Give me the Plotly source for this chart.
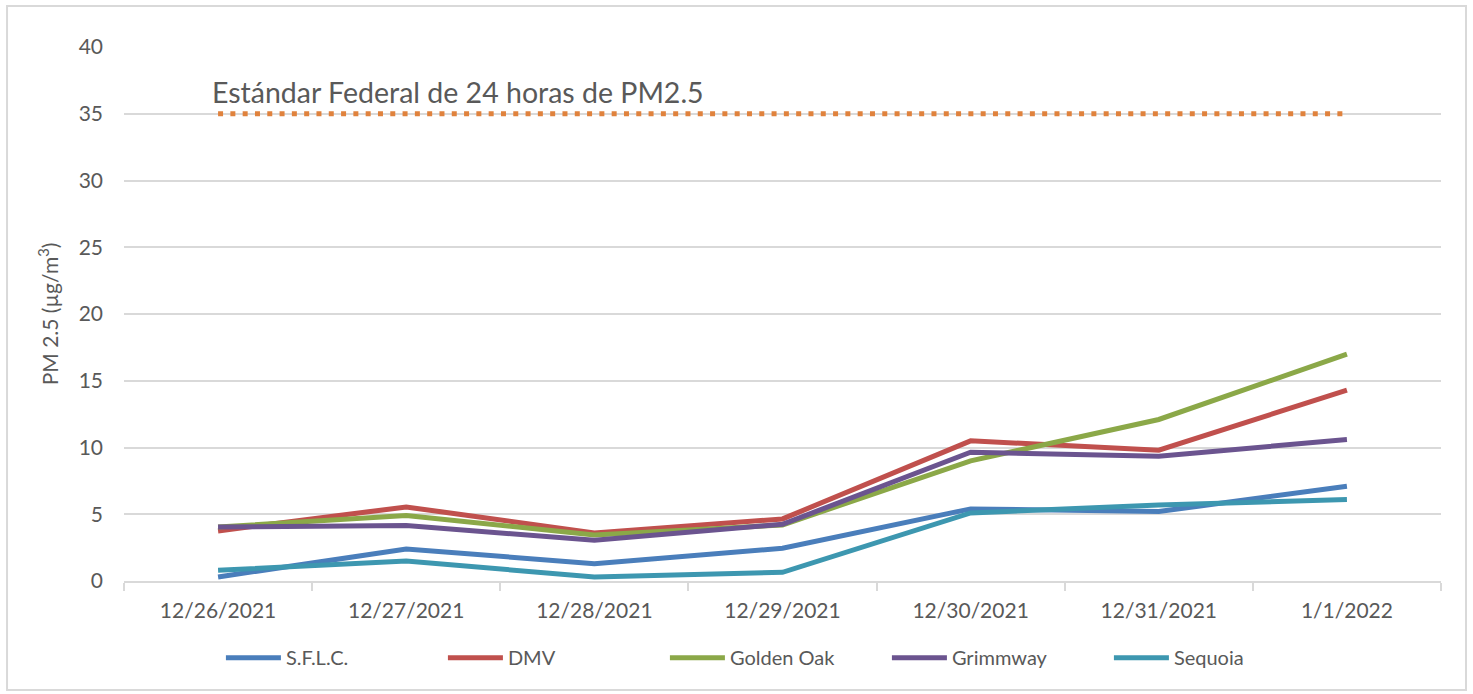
import plotly.graph_objects as go

dates = ["12/26/2021", "12/27/2021", "12/28/2021", "12/29/2021", "12/30/2021", "12/31/2021", "1/1/2022"]
sflc = [0.3, 2.4, 1.3, 2.45, 5.4, 5.2, 7.1]
dmv = [3.75, 5.55, 3.6, 4.65, 10.5, 9.8, 14.3]
golden_oak = [4.05, 4.9, 3.45, 4.2, 9.0, 12.1, 17.0]
grimmway = [4.05, 4.15, 3.05, 4.25, 9.65, 9.35, 10.6]
sequoia = [0.8, 1.5, 0.3, 0.65, 5.1, 5.7, 6.1]
standard = [35] * len(dates)

series = [
    ("S.F.L.C.", sflc, "#4A7EBB"),
    ("DMV", dmv, "#C0504D"),
    ("Golden Oak", golden_oak, "#8BA848"),
    ("Grimmway", grimmway, "#6B548F"),
    ("Sequoia", sequoia, "#3D97B0"),
]

FONT = "Lato"
TXT = "#595959"

fig = go.Figure()
fig.add_trace(go.Scatter(x=dates, y=standard, mode="lines", showlegend=False,
                         line=dict(color="#E0823D", width=5, dash="5px,7.3px"),
                         hoverinfo="skip"))
for name, vals, col in series:
    fig.add_trace(go.Scatter(x=dates, y=vals, mode="lines", name=name,
                             line=dict(color=col, width=5)))

fig.add_annotation(x=dates[0], y=35, xref="x", yref="y", text="Estándar Federal de 24 horas de PM2.5",
                   showarrow=False, xanchor="left", yanchor="bottom", xshift=-8, yshift=3,
                   font=dict(family=FONT, size=28.5, color=TXT))

fig.update_layout(
    width=1473, height=694,
    paper_bgcolor="white", plot_bgcolor="white",
    margin=dict(l=124, r=32, t=47, b=113, autoexpand=False),
    font=dict(family=FONT, size=21, color=TXT),
    xaxis=dict(type="category", range=[-0.5, 6.5], tickson="boundaries", ticks="outside", ticklen=8,
               tickcolor="#D9D9D9", tickwidth=2, showline=True, linecolor="#D9D9D9",
               linewidth=2, showgrid=False, ticklabelstandoff=10,
               tickfont=dict(size=21, color=TXT)),
    yaxis=dict(range=[0, 40], dtick=5, showgrid=True, gridcolor="#D9D9D9", gridwidth=2,
               zeroline=False, showline=False, ticks="", ticklabelstandoff=20,
               title=dict(text="PM 2.5 (µg/m<sup>3</sup>)", standoff=14,
                          font=dict(size=21, color=TXT)),
               tickfont=dict(size=21, color=TXT)),
    legend=dict(orientation="h", x=0.495, xanchor="center", y=-0.107, yanchor="top",
                font=dict(size=20, color=TXT), itemwidth=55,
                entrywidth=152, entrywidthmode="pixels"),
    shapes=[dict(type="rect", xref="paper", yref="paper", x0=-0.0888, x1=1.019,
                 y0=-0.204, y1=1.0768, line=dict(color="#D9D9D9", width=2))],
)

fig.write_html("out.html", config={"displayModeBar": False},
               post_script="document.body.style.margin='0';")
